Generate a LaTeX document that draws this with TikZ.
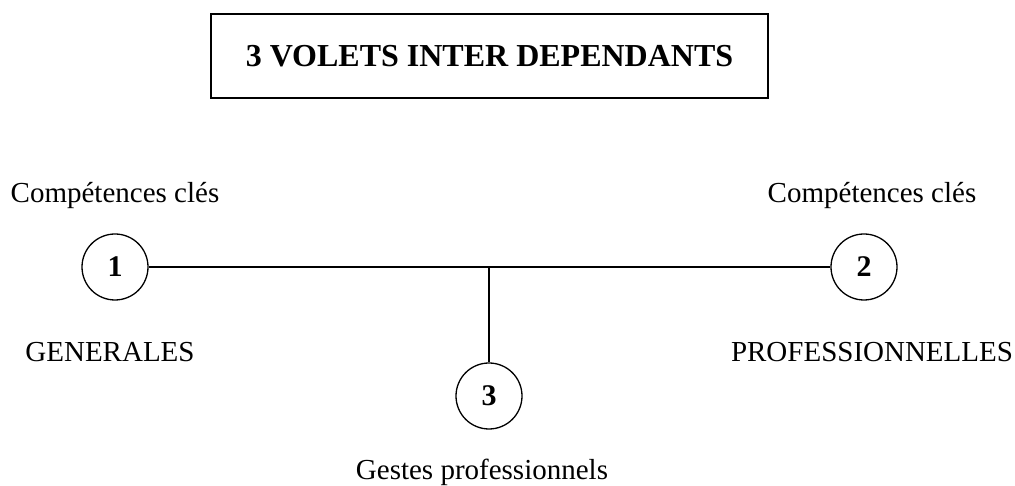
\documentclass[tikz,border=0pt]{standalone}
\usepackage{fontspec}
\setmainfont{Liberation Serif}
\begin{document}
\begin{tikzpicture}[x=1pt,y=1pt,
  lbl/.style={font=\fontsize{29}{34}\selectfont, inner sep=0pt, anchor=base},
  num/.style={circle, draw, line width=1.3pt, minimum size=66pt, inner sep=0pt, font=\fontsize{30}{35}\selectfont\bfseries},
  link/.style={line width=1.3pt}]
\useasboundingbox (0,0) rectangle (1015,486);
\node[draw, line width=1.6pt, minimum width=557pt, minimum height=84pt, inner sep=0pt,
      font=\fontsize{32}{37}\selectfont\bfseries] (title) at (489.5,430) {3 VOLETS INTER DEPENDANTS};
\node[num] (c1) at (115,219) {1};
\node[num] (c2) at (864,219) {2};
\node[num] (c3) at (489,90) {3};
\node[lbl] (t1) at (115,283) {Compétences clés};
\node[lbl] (t2) at (872,283) {Compétences clés};
\node[lbl] (g1) at (110,124) {GENERALES};
\node[lbl] (g2) at (872,124) {PROFESSIONNELLES};
\node[lbl] (g3) at (482,6) {Gestes professionnels};
\coordinate (j) at (489,219);
\draw[link] (c1.east) -- (c2.west);
\draw[link] (j) -- (c3.north);
\end{tikzpicture}
\end{document}
